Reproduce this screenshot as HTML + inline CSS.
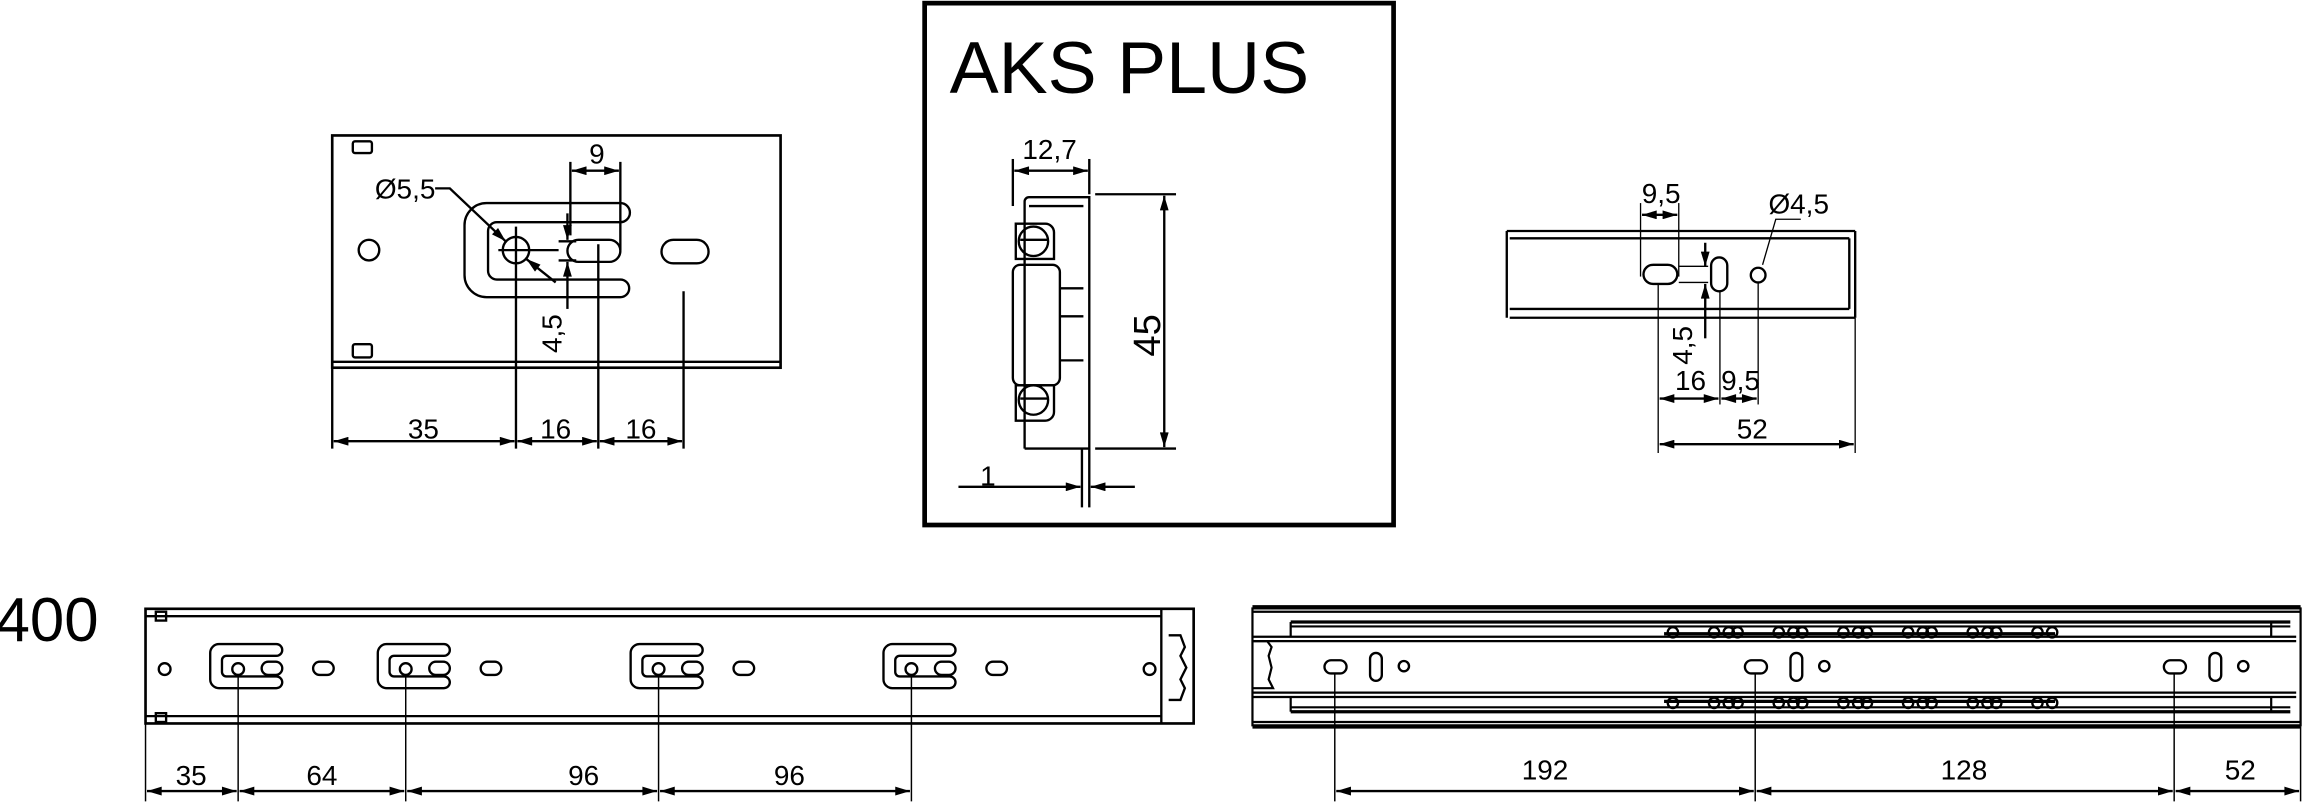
<!DOCTYPE html>
<html><head><meta charset="utf-8"><style>html,body{margin:0;padding:0;background:#fff}svg{display:block}text{font-family:"Liberation Sans",sans-serif;fill:#000}</style></head><body>
<svg width="2305" height="806" viewBox="0 0 1568 548" xmlns="http://www.w3.org/2000/svg">
<defs>
<marker id="a" viewBox="0 0 10 6" refX="10" refY="3" markerWidth="11" markerHeight="6" orient="auto-start-reverse" markerUnits="userSpaceOnUse"><path d="M0,0L10,3L0,6z" fill="#000"/></marker>
</defs>
<g fill="none" stroke="#000" stroke-width="1.6">
<rect x="226" y="92" width="305" height="158" stroke-width="1.8"/>
<line x1="226" y1="246" x2="531" y2="246"/>
<rect x="240" y="96" width="13" height="8" rx="1.5"/><rect x="240" y="234" width="13" height="9" rx="1.5"/>
<circle cx="251" cy="170" r="7"/>
<path d="M422,138 H331 a15,15 0 0 0 -15,15 V187 a15,15 0 0 0 15,15 H422 a6,6 0 0 0 0,-12 H338 a6,6 0 0 1 -6,-6 V157 a6,6 0 0 1 6,-6 H422 a6.5,6.5 0 0 0 0,-13"/>
<circle cx="351" cy="170" r="9"/>
<rect x="386" y="163" width="36" height="15" rx="7.5"/>
<rect x="450" y="163" width="32" height="16" rx="8"/>
<line x1="339" y1="170" x2="380" y2="170"/><line x1="351" y1="154" x2="351" y2="305"/>
<line x1="407" y1="166" x2="407" y2="305"/><line x1="465" y1="198" x2="465" y2="305"/>
<line x1="226" y1="250" x2="226" y2="305"/>
<line x1="227" y1="300" x2="350" y2="300" marker-start="url(#a)" marker-end="url(#a)"/>
<line x1="352" y1="300" x2="406" y2="300" marker-start="url(#a)" marker-end="url(#a)"/>
<line x1="408" y1="300" x2="464" y2="300" marker-start="url(#a)" marker-end="url(#a)"/>
<line x1="388" y1="110" x2="388" y2="160"/><line x1="422" y1="110" x2="422" y2="170"/>
<line x1="389" y1="116" x2="421" y2="116" marker-start="url(#a)" marker-end="url(#a)"/>
<line x1="380" y1="164" x2="392" y2="164"/><line x1="380" y1="177" x2="392" y2="177"/>
<line x1="386" y1="145" x2="386" y2="163" marker-end="url(#a)"/>
<line x1="386" y1="210" x2="386" y2="178" marker-end="url(#a)"/>
<path d="M296,128 H306 L344,164" marker-end="url(#a)"/>
<line x1="378" y1="192" x2="358" y2="176" marker-end="url(#a)"/>
<rect x="629" y="2" width="319" height="355" stroke-width="3.2"/>
<path d="M697,305 V137 a3,3 0 0 1 3,-3 H741 V305 H697 M741,134 V305 M700,140 H737"/>
<path d="M691,152 h20 a6,6 0 0 1 6,6 v18 h-26 z M691,262 h26 v18 a6,6 0 0 1 -6,6 h-20 z"/>
<circle cx="703" cy="164" r="10"/><circle cx="703" cy="272" r="10"/>
<line x1="694" y1="163" x2="713" y2="163"/><line x1="694" y1="271" x2="713" y2="271"/>
<rect x="689" y="180" width="32" height="82" rx="5"/>
<line x1="721" y1="196" x2="737" y2="196"/><line x1="721" y1="215" x2="737" y2="215"/><line x1="721" y1="245" x2="737" y2="245"/>
<line x1="689" y1="108" x2="689" y2="140"/><line x1="741" y1="108" x2="741" y2="132"/>
<line x1="690" y1="116" x2="740" y2="116" marker-start="url(#a)" marker-end="url(#a)"/>
<line x1="745" y1="132" x2="800" y2="132"/><line x1="745" y1="305" x2="800" y2="305"/>
<line x1="792" y1="133" x2="792" y2="304" marker-start="url(#a)" marker-end="url(#a)"/>
<line x1="736" y1="305" x2="736" y2="345"/><line x1="741" y1="305" x2="741" y2="345"/>
<line x1="652" y1="331" x2="735" y2="331" marker-end="url(#a)"/>
<line x1="772" y1="331" x2="742" y2="331" marker-end="url(#a)"/>
<path d="M1025,157 H1262 M1027,162 H1258 M1027,210 H1258 M1027,216 H1262 M1025,157 V216 M1258,162 V210 M1262,157 V216"/>
<rect x="1118" y="180" width="23" height="13" rx="6.5"/>
<rect x="1164" y="175" width="11" height="23" rx="5.5"/>
<circle cx="1196" cy="187" r="5"/>
<g stroke-width="0.9">
<line x1="1116" y1="138" x2="1116" y2="188"/><line x1="1142" y1="138" x2="1142" y2="188"/>
<line x1="1128" y1="193" x2="1128" y2="308"/><line x1="1170" y1="198" x2="1170" y2="275"/>
<line x1="1196" y1="192" x2="1196" y2="275"/><line x1="1262" y1="216" x2="1262" y2="308"/>
<line x1="1142" y1="181" x2="1162" y2="181"/><line x1="1142" y1="192" x2="1162" y2="192"/>
<path d="M1225,149 H1208 L1199,180"/>
</g>
<line x1="1117" y1="146" x2="1141" y2="146" marker-start="url(#a)" marker-end="url(#a)"/>
<line x1="1160" y1="165" x2="1160" y2="181" marker-end="url(#a)"/>
<line x1="1160" y1="230" x2="1160" y2="193" marker-end="url(#a)"/>
<line x1="1129" y1="271" x2="1169" y2="271" marker-start="url(#a)" marker-end="url(#a)"/>
<line x1="1171" y1="271" x2="1195" y2="271" marker-start="url(#a)" marker-end="url(#a)"/>
<line x1="1129" y1="302" x2="1261" y2="302" marker-start="url(#a)" marker-end="url(#a)"/>
<rect x="99" y="414" width="713" height="78" stroke-width="1.8"/>
<line x1="99" y1="419" x2="790" y2="419"/><line x1="99" y1="487" x2="790" y2="487"/>
<line x1="790" y1="414" x2="790" y2="492"/>
<rect x="106" y="416" width="7" height="6"/><rect x="106" y="485" width="7" height="6"/>
<circle cx="112" cy="455" r="4"/><circle cx="782" cy="455" r="4"/>
<path d="M795,432 h8 l3,8 l-3,6 l4,8 l-4,8 l3,6 l-3,8 h-8"/>
<g id="g1">
<path d="M188,438 H149 a6,6 0 0 0 -6,6 V462 a6,6 0 0 0 6,6 H188 a4,4 0 0 0 0,-8 H154 a3,3 0 0 1 -3,-3 V449 a3,3 0 0 1 3,-3 H188 a4,4 0 0 0 0,-8"/>
<circle cx="162" cy="455" r="4"/><rect x="178" y="450" width="14" height="9" rx="4.5"/><rect x="213" y="450" width="14" height="9" rx="4.5"/>
</g>
<use href="#g1" x="114"/><use href="#g1" x="286"/><use href="#g1" x="458"/>
<g stroke-width="1">
<line x1="99" y1="492" x2="99" y2="545"/><line x1="162" y1="459" x2="162" y2="545"/>
<line x1="276" y1="459" x2="276" y2="545"/><line x1="448" y1="459" x2="448" y2="545"/><line x1="620" y1="459" x2="620" y2="545"/>
</g>
<line x1="100" y1="538" x2="161" y2="538" marker-start="url(#a)" marker-end="url(#a)"/>
<line x1="163" y1="538" x2="275" y2="538" marker-start="url(#a)" marker-end="url(#a)"/>
<line x1="277" y1="538" x2="447" y2="538" marker-start="url(#a)" marker-end="url(#a)"/>
<line x1="449" y1="538" x2="619" y2="538" marker-start="url(#a)" marker-end="url(#a)"/>
<g stroke-width="1.5">
<line x1="852" y1="413" x2="1565" y2="413" stroke-width="3"/><line x1="852" y1="416" x2="1565" y2="416"/>
<line x1="852" y1="494" x2="1565" y2="494" stroke-width="3"/><line x1="852" y1="491" x2="1565" y2="491"/>
<line x1="852" y1="413" x2="852" y2="494"/><line x1="1565" y1="413" x2="1565" y2="494"/>
<line x1="878" y1="423" x2="1558" y2="423" stroke-width="2.2"/><line x1="878" y1="426" x2="1558" y2="426"/>
<line x1="878" y1="481" x2="1558" y2="481"/><line x1="878" y1="484" x2="1558" y2="484" stroke-width="2.2"/>
<line x1="878" y1="423" x2="878" y2="433"/><line x1="878" y1="474" x2="878" y2="484"/>
<line x1="1545" y1="423" x2="1545" y2="433"/><line x1="1545" y1="474" x2="1545" y2="484"/>
<line x1="852" y1="433" x2="1562" y2="433"/><line x1="852" y1="436" x2="1562" y2="436"/>
<line x1="852" y1="471" x2="1562" y2="471"/><line x1="852" y1="474" x2="1562" y2="474"/>
<path d="M852,436 h10 l3,4 l-2,6 l2,8 l-2,8 l3,6 h-14"/>
<path d="M1132,431 H1398 M1132,477 H1398" stroke-width="2.2"/>
</g>
<g id="sb"><circle cx="1138" cy="430" r="3.5"/><circle cx="1166" cy="430" r="3.5"/><circle cx="1176" cy="430" r="3.5"/><circle cx="1138" cy="478" r="3.5"/><circle cx="1166" cy="478" r="3.5"/><circle cx="1176" cy="478" r="3.5"/></g>
<use href="#sb" x="44"/><use href="#sb" x="88"/><use href="#sb" x="132"/><use href="#sb" x="176"/><use href="#sb" x="220"/>
<g id="g2"><rect x="901" y="449" width="15" height="9" rx="4.5"/><rect x="932" y="444" width="8" height="19" rx="4"/><circle cx="955" cy="453" r="3.5"/></g>
<use href="#g2" x="286"/><use href="#g2" x="571"/>
<g stroke-width="1">
<line x1="908" y1="458" x2="908" y2="545"/><line x1="1194" y1="458" x2="1194" y2="545"/>
<line x1="1479" y1="458" x2="1479" y2="545"/><line x1="1565" y1="494" x2="1565" y2="545"/>
</g>
<line x1="909" y1="538" x2="1193" y2="538" marker-start="url(#a)" marker-end="url(#a)"/>
<line x1="1195" y1="538" x2="1478" y2="538" marker-start="url(#a)" marker-end="url(#a)"/>
<line x1="1480" y1="538" x2="1564" y2="538" marker-start="url(#a)" marker-end="url(#a)"/>
</g>
<g font-size="19">
<text x="288" y="298" text-anchor="middle">35</text><text x="378" y="298" text-anchor="middle">16</text><text x="436" y="298" text-anchor="middle">16</text>
<text x="406" y="111" text-anchor="middle">9</text>
<text x="255" y="135">Ø5,5</text>
<text transform="translate(382,240) rotate(-90)">4,5</text>
<text x="714" y="108" text-anchor="middle">12,7</text>
<text x="672" y="330" text-anchor="middle">1</text>
<text x="1130" y="138" text-anchor="middle">9,5</text>
<text x="1203" y="145">Ø4,5</text>
<text transform="translate(1151,248) rotate(-90)">4,5</text>
<text x="1150" y="265" text-anchor="middle">16</text><text x="1184" y="265" text-anchor="middle">9,5</text>
<text x="1192" y="298" text-anchor="middle">52</text>
<text x="130" y="534" text-anchor="middle">35</text><text x="219" y="534" text-anchor="middle">64</text>
<text x="397" y="534" text-anchor="middle">96</text><text x="537" y="534" text-anchor="middle">96</text>
<text x="1051" y="530" text-anchor="middle">192</text><text x="1336" y="530" text-anchor="middle">128</text><text x="1524" y="530" text-anchor="middle">52</text>
</g>
<text transform="translate(789,228) rotate(-90)" font-size="26" text-anchor="middle">45</text>
<text x="646" y="63" font-size="50">AKS PLUS</text>
<text x="-3" y="436" font-size="42">400</text>
</svg>
</body></html>
